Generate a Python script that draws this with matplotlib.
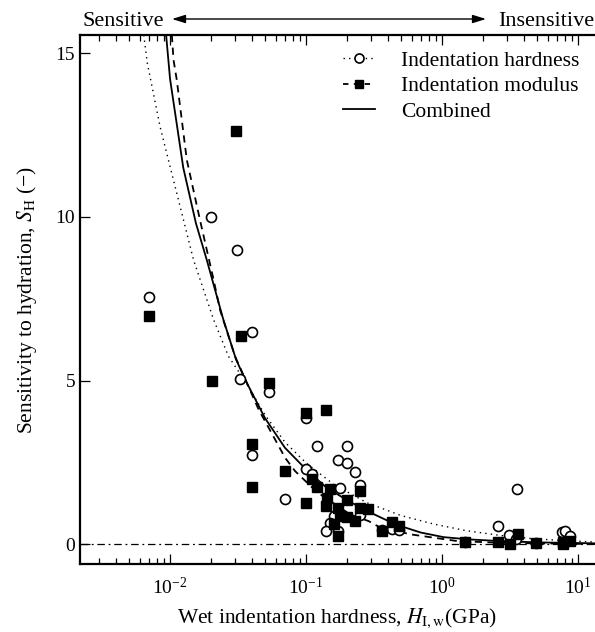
import matplotlib
matplotlib.use("Agg")
import matplotlib.pyplot as plt

plt.rcParams['font.family'] = ['Liberation Serif', 'DejaVu Serif']
plt.rcParams['mathtext.fontset'] = 'stix'

# ---- data: indentation hardness (open circles) ----
hard_x = [0.00697, 0.020, 0.031, 0.0328, 0.040, 0.053, 0.040, 0.1, 0.12, 0.20,
          0.171, 0.20, 0.231, 0.251, 0.179, 0.1, 0.111, 0.07, 0.16, 0.25,
          0.149, 0.14, 0.171, 0.43, 0.363, 0.48, 1.49, 2.6, 3.1, 3.5,
          3.59, 4.9, 7.7, 8.1, 8.8]
hard_y = [7.56, 10.0, 9.0, 5.05, 6.48, 4.65, 2.74, 3.87, 3.0, 3.0,
          2.58, 2.49, 2.2, 1.8, 1.72, 2.29, 2.16, 1.37, 0.86, 0.91,
          0.64, 0.41, 0.41, 0.48, 0.44, 0.43, 0.08, 0.56, 0.30, 0.15,
          1.68, 0.03, 0.38, 0.41, 0.25]

# ---- data: indentation modulus (filled squares) ----
mod_x = [0.0306, 0.0070, 0.033, 0.0203, 0.053, 0.1, 0.14, 0.040, 0.0703, 0.111,
         0.12, 0.040, 0.1, 0.149, 0.143, 0.14, 0.2, 0.25, 0.171, 0.25,
         0.284, 0.179, 0.2, 0.231, 0.16, 0.171, 0.43, 0.363, 0.48, 1.49,
         2.6, 3.2, 3.62, 4.9, 7.8, 8.8, 7.8]
mod_y = [12.62, 6.96, 6.36, 5.0, 4.93, 4.0, 4.1, 3.07, 2.24, 2.0,
         1.76, 1.76, 1.25, 1.70, 1.42, 1.17, 1.34, 1.63, 1.12, 1.12,
         1.07, 0.86, 0.84, 0.71, 0.61, 0.25, 0.68, 0.41, 0.56, 0.08,
         0.08, 0.0, 0.33, 0.03, 0.06, 0.1, 0.0]

# ---- fitted curves ----
fit_hard_x = [0.0064, 0.0068, 0.00844, 0.0112, 0.01486, 0.0209, 0.0269, 0.0367,
              0.05, 0.07, 0.1, 0.16, 0.281, 0.5, 0.87, 1.5, 2.7, 5.0, 13.5]
fit_hard_y = [15.55, 14.69, 12.75, 10.72, 8.69, 6.86, 5.74, 4.9,
              3.95, 3.12, 2.49, 1.83, 1.27, 0.88, 0.62, 0.42, 0.27, 0.16, 0.07]

fit_mod_x = [0.0103, 0.0106, 0.0112, 0.01327, 0.0166, 0.0209, 0.0233, 0.03,
             0.0448, 0.0703, 0.083, 0.12, 0.212, 0.289, 0.353, 0.6, 1.3, 3.0, 13.5]
fit_mod_y = [15.55, 14.79, 14.18, 11.74, 9.9, 8.08, 7.16, 5.75,
             4.12, 2.64, 2.24, 1.6, 0.91, 0.71, 0.51, 0.3, 0.1, 0.04, 0.01]

fit_comb_x = [0.00935, 0.01, 0.0125, 0.0155, 0.0186, 0.0245, 0.0306, 0.0367,
              0.05, 0.07, 0.1, 0.14, 0.2, 0.281, 0.4, 0.496, 0.7, 1.03,
              1.6, 2.7, 5.0, 10.0, 13.5]
fit_comb_y = [15.55, 14.2, 11.5, 9.8, 8.69, 6.9, 5.64, 4.93,
              3.85, 2.95, 2.29, 1.75, 1.35, 1.02, 0.72, 0.56, 0.36, 0.22,
              0.15, 0.10, 0.06, 0.04, 0.03]

labels = ['Indentation hardness', 'Indentation modulus', 'Combined']

W, H = 595, 632
fig = plt.figure(figsize=(W / 100, H / 100), dpi=100)
left, right, top, bottom = 80, 595, 35, 564
ax = fig.add_axes([left / W, 1 - bottom / H, (right - left) / W, (bottom - top) / H])

ax.axhline(0, color='black', lw=0.9, ls=(0, (6, 3, 1.5, 3)), zorder=1)

ax.plot(fit_hard_x, fit_hard_y, color='black', lw=1.0, ls=(0, (1, 3)), zorder=2)
ax.plot(fit_mod_x, fit_mod_y, color='black', lw=1.3, ls=(0, (4, 3)), zorder=2)
ax.plot(fit_comb_x, fit_comb_y, color='black', lw=1.3, ls='-', zorder=2)

ax.plot(hard_x, hard_y, ls='none', marker='o', ms=7.2, mfc='white', mec='black',
        mew=1.2, zorder=3)
ax.plot(mod_x, mod_y, ls='none', marker='s', ms=6.5, mfc='black', mec='black',
        zorder=4)

# legend proxies
h1, = ax.plot([], [], color='black', lw=1.0, ls=(0, (1, 3)), marker='o', ms=6.5,
              mfc='white', mec='black', mew=1.2)
h2, = ax.plot([], [], color='black', lw=1.3, ls=(0, (3, 3)), marker='s', ms=6,
              mfc='black', mec='black')
h3, = ax.plot([], [], color='black', lw=1.3, ls='-')
ax.legend([h1, h2, h3], labels, loc='upper right', frameon=False, fontsize=15.5,
          handlelength=1.5, handletextpad=1.2, labelspacing=0.25,
          borderaxespad=0.33, bbox_to_anchor=(1.0, 1.0))

ax.set_xscale('log')
ax.set_xlim(10 ** -2.663, 13.4)
ax.set_ylim(-0.6, 15.55)
ax.set_yticks([0, 5, 10, 15])

ax.spines['right'].set_visible(False)
for s in ['left', 'top', 'bottom']:
    ax.spines[s].set_linewidth(1.6)

ax.tick_params(which='both', direction='in', top=True, bottom=True, left=True,
               right=False, labelsize=14, width=0.9)
ax.tick_params(which='major', length=7)
ax.tick_params(which='minor', length=4.5)
ax.tick_params(axis='y', which='minor', left=False)
ax.tick_params(axis='x', pad=9)

ax.set_xlabel('Wet indentation hardness, $H_{\\mathrm{I,w}}$(GPa)', fontsize=15.5,
              labelpad=6.5)
ax.set_ylabel('Sensitivity to hydration, $S_{\\mathrm{H}}$ (\u2212)', fontsize=15.5,
              labelpad=12)

# top annotation
fig.text(82 / W, 1 - 26 / H, 'Sensitive', fontsize=16, ha='left', va='baseline')
fig.text(594 / W, 1 - 26 / H, 'Insensitive', fontsize=16, ha='right', va='baseline')
fig.add_artist(matplotlib.patches.FancyArrowPatch(
    (172 / W, 1 - 19 / H), (486 / W, 1 - 19 / H), transform=fig.transFigure,
    arrowstyle='<|-|>,head_length=8,head_width=2.5', color='black', lw=1.0,
    shrinkA=0, shrinkB=0))

fig.savefig('out.png', dpi=100)
